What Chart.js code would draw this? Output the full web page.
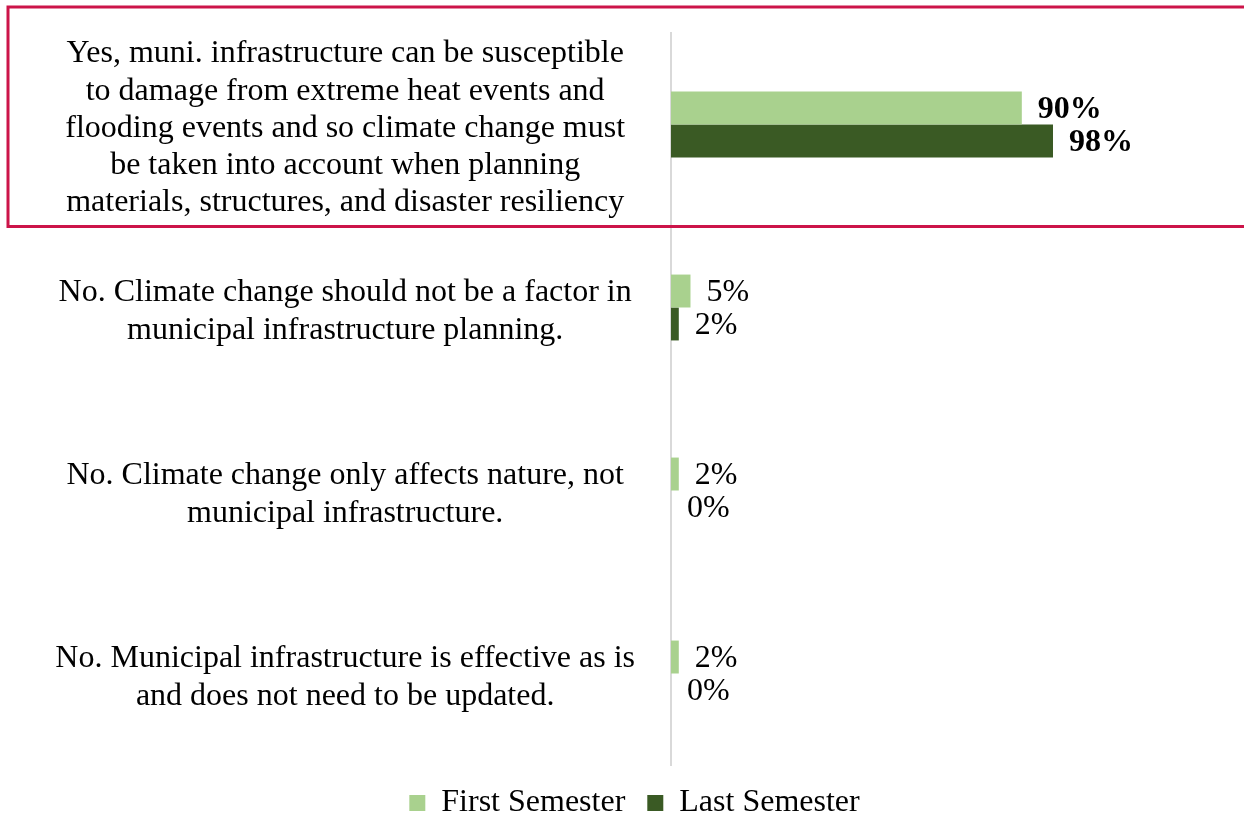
<!DOCTYPE html>
<html>
<head>
<meta charset="utf-8">
<script src="https://cdn.jsdelivr.net/npm/chart.js@4/dist/chart.umd.min.js"></script>
<style>
  html, body { margin: 0; padding: 0; background: #fff; }
  #wrap { width: 1244px; height: 814px; }
</style>
</head>
<body>
<div id="wrap"><canvas id="surveyChart" width="1244" height="814"></canvas></div>
<script>
// Survey answers (one array per wrapped label)
const answers = [
  ["Yes, muni. infrastructure can be susceptible", "to damage from extreme heat events and", "flooding events and so climate change must", "be taken into account when planning", "materials, structures, and disaster resiliency"],
  ["No. Climate change should not be a factor in", "municipal infrastructure planning."],
  ["No. Climate change only affects nature, not", "municipal infrastructure."],
  ["No. Municipal infrastructure is effective as is", "and does not need to be updated."]
];
const firstSemester = [90, 5, 2, 2];
const lastSemester = [98, 2, 0, 0];

const FONT = "'Liberation Serif', 'Times New Roman', serif";

// value labels to the right of each bar, bold for the top answer
const barValueLabels = {
  id: "barValueLabels",
  afterDatasetsDraw(chart) {
    const ctx = chart.ctx;
    ctx.save();
    ctx.fillStyle = "#000";
    ctx.textAlign = "left";
    ctx.textBaseline = "middle";
    chart.data.datasets.forEach((ds, di) => {
      const meta = chart.getDatasetMeta(di);
      meta.data.forEach((bar, i) => {
        ctx.font = (i === 0 ? "bold " : "") + "32px " + FONT;
        ctx.fillText(ds.data[i] + "%", bar.x + 16, bar.y + 2);
      });
    });
    ctx.restore();
  }
};

// red frame around the first answer
const highlightBox = {
  id: "highlightBox",
  afterDraw(chart) {
    const ctx = chart.ctx;
    ctx.save();
    ctx.strokeStyle = "#cc1449";
    ctx.lineWidth = 3;
    ctx.strokeRect(8, 7, 1300, 219.5);
    ctx.restore();
  }
};

new Chart(document.getElementById("surveyChart"), {
  type: "bar",
  data: {
    labels: answers,
    datasets: [
      {
        label: "First Semester",
        data: firstSemester,
        backgroundColor: "#a9d18e",
        borderWidth: 0,
        categoryPercentage: 0.36,
        barPercentage: 1
      },
      {
        label: "Last Semester",
        data: lastSemester,
        backgroundColor: "#3a5a24",
        borderWidth: 0,
        categoryPercentage: 0.36,
        barPercentage: 1
      }
    ]
  },
  options: {
    indexAxis: "y",
    responsive: false,
    animation: false,
    layout: { padding: { top: 33, left: 25, right: 0, bottom: -15 } },
    plugins: {
      legend: {
        position: "bottom",
        labels: {
          font: { family: FONT, size: 32 },
          color: "#000",
          boxWidth: 16,
          boxHeight: 16,
          padding: 22
        }
      },
      tooltip: { enabled: false }
    },
    scales: {
      x: {
        display: false,
        min: 0,
        max: 147
      },
      y: {
        // fixed axis width; labels sit inside the category bands so no extra end padding
        afterFit(scale) {
          scale.width = 646;
          scale.paddingTop = 0;
          scale.paddingBottom = 0;
        },
        grid: { display: false, drawTicks: false },
        border: { display: true, color: "#d9d9d9", width: 2 },
        ticks: {
          autoSkip: false,
          crossAlign: "center",
          padding: 36,
          labelOffset: 4,
          color: "#000",
          font: { family: FONT, size: 32, lineHeight: 1.165 }
        }
      }
    }
  },
  plugins: [barValueLabels, highlightBox]
});
</script>
</body>
</html>
